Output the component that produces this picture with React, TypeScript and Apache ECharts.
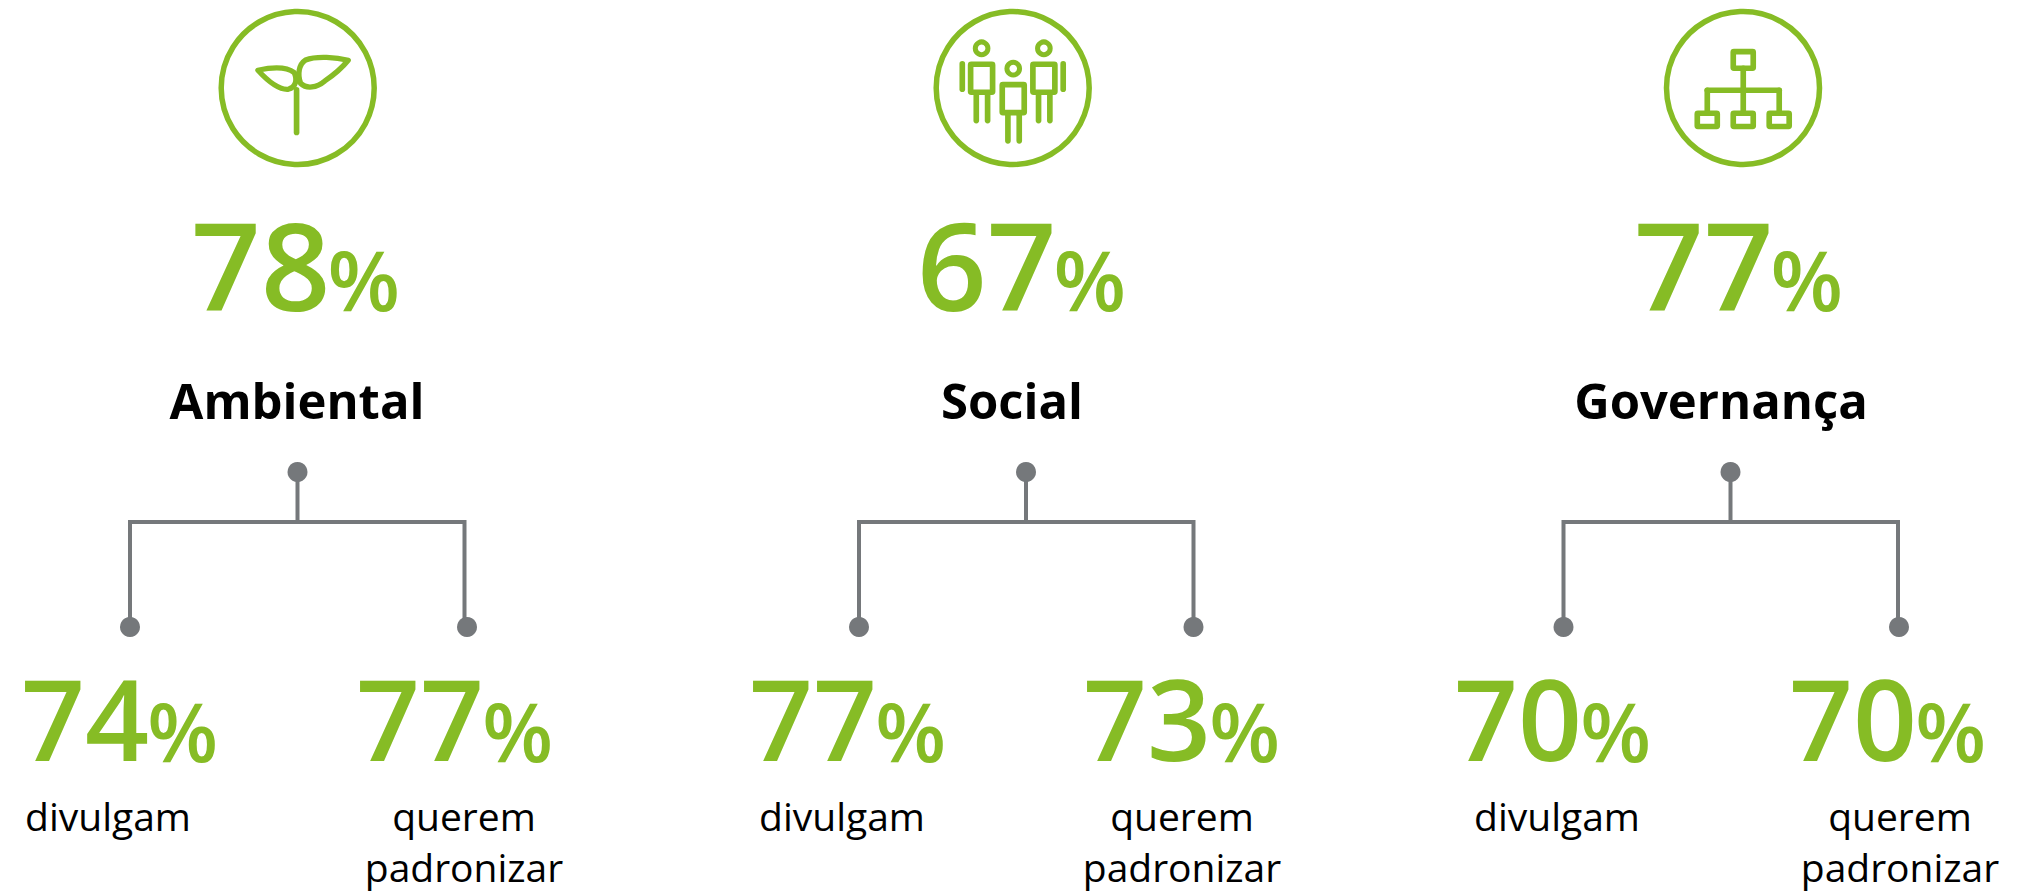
import React, { useEffect, useRef } from "react";
import * as echarts from "echarts";

const pillars = ["Ambiental", "Social", "Governança"];
const overall = [78, 67, 77];
const discloseValues = [74, 77, 70];
const standardiseValues = [77, 73, 70];
const discloseLabel = "divulgam";
const standardiseLabel = ["querem", "padronizar"];

const GREEN = "#86BC25";
const GRAY = "#75787B";
const FONT = '"Open Sans", sans-serif';

const layout = [
  { circle: 297.7, topX: 190, title: 297, stem: 297.5, l: 130, r: 464.5, rd: 467, lv: 20, rv: 355, dl: 108, sl: 464 },
  { circle: 1012.7, topX: 916, title: 1012, stem: 1026, l: 859, r: 1193.5, rd: 1193.5, lv: 748, rv: 1082, dl: 842, sl: 1182 },
  { circle: 1743, topX: 1633, title: 1721, stem: 1730.5, l: 1563.5, r: 1898, rd: 1899, lv: 1453, rv: 1788, dl: 1557, sl: 1900 },
];

const leafLeft = "M174 211 C210 203 258 199 283 218 C293 240 288 262 265 268 C240 270 205 245 174 211 Z";
const leafRight = "M445 181 C410 172 350 167 317 180 C297 193 292 222 302 250 C320 268 350 264 375 243 C400 226 428 202 445 181 Z";
echarts.graphic.registerShape("leafLeft", echarts.graphic.extendPath(leafLeft, {}));
echarts.graphic.registerShape("leafRight", echarts.graphic.extendPath(leafRight, {}));

const stroke = (w = 17) => ({ fill: "none", stroke: GREEN, lineWidth: w, lineCap: "round", lineJoin: "round" });
const seg = (x1: number, y1: number, x2: number, y2: number, w = 17) => ({
  type: "line", shape: { x1, y1, x2, y2 }, style: stroke(w),
});
const box = (x: number, y: number, width: number, height: number, w = 17) => ({
  type: "rect", shape: { x, y, width, height, r: 2 }, style: stroke(w),
});
const head = (cx: number, cy: number) => ({ type: "circle", shape: { cx, cy, r: 19 }, style: stroke(15) });

const iconLeaf = [
  { type: "leafLeft", style: stroke(16) },
  { type: "leafRight", style: stroke(16) },
  seg(290, 270, 290, 398, 17),
];
const person = (dx: number, dy: number) => [
  head(185 + dx, 145 + dy),
  box(152 + dx, 193 + dy, 66, 84),
  seg(169 + dx, 285 + dy, 169 + dx, 362 + dy),
  seg(203 + dx, 285 + dy, 203 + dx, 362 + dy),
];
const iconPeople = [
  ...person(0, 0),
  ...person(95, 61),
  ...person(187, 0),
  seg(127, 192, 127, 268),
  seg(430, 192, 430, 268),
];
const iconTree = [
  box(250, 155, 60, 50),
  seg(280, 205, 280, 340),
  seg(172, 271, 388, 271),
  seg(172, 271, 172, 340),
  seg(388, 271, 388, 340),
  box(142, 340, 60, 40),
  box(250, 340, 60, 40),
  box(358, 340, 60, 40),
];
const icons = [iconLeaf, iconPeople, iconTree];
const iconOrigin = [200, 920, 1650];

const greenText = (text: string, x: number, baseline: number, size: number) => ({
  type: "text",
  x,
  y: baseline - 0.393 * size,
  style: {
    text,
    fontFamily: FONT,
    fontWeight: 600,
    fontSize: size,
    lineHeight: size * 0.8,
    fill: GREEN,
    align: "left",
    verticalAlign: "middle",
  },
});
const percentText = (v: number, x: number, baseline: number, size: number, pct: number, gap: number) => [
  greenText(String(v), x, baseline, size),
  greenText("%", x + 2 * 0.572 * size + gap, baseline, pct),
];

const label = (text: string, x: number, y: number) => ({
  type: "text",
  x,
  y,
  style: { text, fontFamily: FONT, fontSize: 39, lineHeight: 44, fill: "#000", align: "center", verticalAlign: "middle" },
});

const grayLine = (points: number[][]) => ({
  type: "polyline",
  shape: { points },
  style: { fill: "none", stroke: GRAY, lineWidth: 4 },
});
const dot = (cx: number, cy: number) => ({
  type: "circle",
  shape: { cx, cy, r: 10 },
  style: { fill: GRAY },
});

function buildGraphics() {
  const out: any[] = [];
  pillars.forEach((name, i) => {
    const p = layout[i];
    out.push({ type: "circle", shape: { cx: p.circle, cy: 88, r: 76.5 }, style: { fill: "none", stroke: GREEN, lineWidth: 5.5 } });
    out.push({ type: "group", x: iconOrigin[i], y: 0, scaleX: 1 / 3, scaleY: 1 / 3, children: icons[i] });
    out.push(...percentText(overall[i], p.topX + 1, 312, 122, 84, -3));
    out.push({
      type: "text",
      x: p.title,
      y: 400,
      style: { text: name, fontFamily: FONT, fontWeight: 700, fontSize: 49, lineHeight: 56, fill: "#000", align: "center", verticalAlign: "middle" },
    });
    out.push(grayLine([[p.stem, 472], [p.stem, 522]]));
    out.push(grayLine([[p.l, 627], [p.l, 522], [p.r, 522], [p.r, 627]]));
    out.push(dot(p.stem, 472), dot(p.l, 627), dot(p.rd, 627));
    out.push(...percentText(discloseValues[i], p.lv + 1, 762, 112, 82, -2));
    out.push(...percentText(standardiseValues[i], p.rv + 1, 762, 112, 82, -2));
    out.push(label(discloseLabel, p.dl, 815));
    out.push(label(standardiseLabel[0], p.sl, 815));
    out.push(label(standardiseLabel[1], p.sl, 866.5));
  });
  return out;
}

export default function App() {
  const ref = useRef<HTMLDivElement>(null);
  useEffect(() => {
    document.body.style.margin = "0";
    const chart = echarts.init(ref.current!, undefined, { renderer: "svg" });
    chart.setOption({ animation: false, backgroundColor: "#fff", graphic: { elements: buildGraphics() } });
    return () => chart.dispose();
  }, []);
  return <div ref={ref} style={{ width: 2034, height: 893 }} />;
}
